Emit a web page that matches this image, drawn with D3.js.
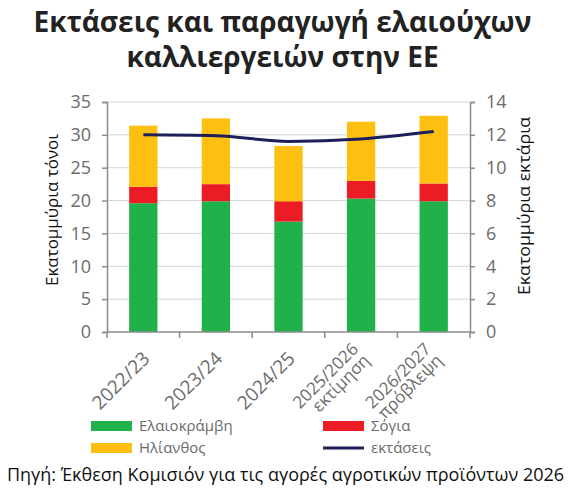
<!DOCTYPE html>
<html>
<head>
<meta charset="utf-8">
<script src="https://cdn.jsdelivr.net/npm/d3@7"></script>
<style>
  body { margin: 0; background: #fff; }
  svg text { font-family: "Open Sans", sans-serif; }
</style>
</head>
<body>
<div id="chart"></div>
<script>
// seasons on the x axis (second line is the note under the year)
var seasons = [["2022/23"], ["2023/24"], ["2024/25"], ["2025/2026", "εκτίμηση"], ["2026/2027", "πρόβλεψη"]];
// production, million tonnes
var rapeseed = [19.6, 19.9, 16.8, 20.3, 19.9];
var soya = [2.5, 2.6, 3.1, 2.7, 2.7];
var sunflower = [9.3, 10.0, 8.4, 9.0, 10.3];
// area, million hectares
var area = [12.0, 11.95, 11.6, 11.75, 12.2];

var leftTicks = [0, 5, 10, 15, 20, 25, 30, 35];
var rightTicks = [0, 2, 4, 6, 8, 10, 12, 14];

var seriesNames = ["Ελαιοκράμβη", "Σόγια", "Ηλίανθος", "εκτάσεις"];
var colors = ["#21b14b", "#ec1c24", "#fec010", "#1c1f5a"];

var width = 571, height = 500;
var plotLeft = 107, plotRight = 470, plotTop = 102, plotBottom = 332;

var svg = d3.select("#chart").append("svg")
            .attr("width", width)
            .attr("height", height);

// title
svg.append("text")
   .attr("x", width / 2 - 3).attr("y", 32)
   .attr("text-anchor", "middle")
   .attr("font-size", 28).attr("font-weight", 700).attr("fill", "#222")
   .text("Εκτάσεις και παραγωγή ελαιούχων");
svg.append("text")
   .attr("x", width / 2 - 3).attr("y", 67)
   .attr("text-anchor", "middle")
   .attr("font-size", 28).attr("font-weight", 700).attr("fill", "#222")
   .text("καλλιεργειών στην ΕΕ");

var x = d3.scaleBand()
          .domain(d3.range(seasons.length))
          .range([plotLeft, plotRight])
          .paddingInner(0.61).paddingOuter(0.305);
var yL = d3.scaleLinear().domain([0, 35]).range([plotBottom, plotTop]);
var yR = d3.scaleLinear().domain([0, 14]).range([plotBottom, plotTop]);

// grid
svg.append("g").selectAll("line")
   .data(leftTicks.slice(1))
   .enter().append("line")
   .attr("x1", plotLeft).attr("x2", plotRight)
   .attr("y1", function(d) { return yL(d); })
   .attr("y2", function(d) { return yL(d); })
   .attr("stroke", "#d6d6d6").attr("stroke-width", 1);

// stacked bars
var stackData = seasons.map(function(s, i) {
  return { i: i, r: rapeseed[i], s: soya[i], h: sunflower[i] };
});
var stack = d3.stack().keys(["r", "s", "h"]);
var layers = stack(stackData);

svg.append("g").selectAll("g")
   .data(layers)
   .enter().append("g")
   .attr("fill", function(d, i) { return colors[i]; })
   .selectAll("rect")
   .data(function(d) { return d; })
   .enter().append("rect")
   .attr("x", function(d) { return x(d.data.i); })
   .attr("width", x.bandwidth())
   .attr("y", function(d) { return yL(d[1]); })
   .attr("height", function(d) { return yL(d[0]) - yL(d[1]); });

// area line
var line = d3.line()
             .x(function(d, i) { return x(i) + x.bandwidth() / 2; })
             .y(function(d) { return yR(d); })
             .curve(d3.curveMonotoneX);
svg.append("path")
   .datum(area)
   .attr("d", line)
   .attr("fill", "none")
   .attr("stroke", colors[3])
   .attr("stroke-width", 3);

// axes
var axisColor = "#8c8c8c";
var tickColor = "#6b6b6b";

var gL = svg.append("g")
            .attr("transform", "translate(" + plotLeft + ",0)")
            .call(d3.axisLeft(yL).tickValues(leftTicks).tickSize(5).tickPadding(11));
var gR = svg.append("g")
            .attr("transform", "translate(" + plotRight + ",0)")
            .call(d3.axisRight(yR).tickValues(rightTicks).tickSize(5).tickPadding(11));
[gL, gR].forEach(function(g) {
  g.select(".domain").attr("stroke", axisColor).attr("stroke-width", 1.5);
  g.selectAll(".tick line").attr("stroke", axisColor).attr("stroke-width", 1.5);
  g.selectAll(".tick text").attr("fill", tickColor)
   .attr("font-size", 18).attr("font-family", "Open Sans, sans-serif");
});

// x baseline with ticks at band edges
var edges = d3.range(seasons.length + 1).map(function(i) {
  return plotLeft + i * x.step();
});
svg.append("line")
   .attr("x1", plotLeft).attr("x2", plotRight)
   .attr("y1", plotBottom).attr("y2", plotBottom)
   .attr("stroke", axisColor).attr("stroke-width", 1.5);
svg.append("g").selectAll("line")
   .data(edges)
   .enter().append("line")
   .attr("x1", function(d) { return d; }).attr("x2", function(d) { return d; })
   .attr("y1", plotBottom).attr("y2", plotBottom + 6)
   .attr("stroke", axisColor).attr("stroke-width", 1.5);

// x labels, rotated
var xl = svg.append("g").selectAll("text")
            .data(seasons)
            .enter().append("text")
            .attr("transform", function(d, i) {
              var cx = x(i) + x.bandwidth() / 2;
              if (d.length > 1) {
                return "translate(" + (cx - 3) + "," + (plotBottom + 17) + ") rotate(-45)";
              }
              return "translate(" + (cx + 3) + "," + (plotBottom + 23) + ") rotate(-45)";
            })
            .attr("text-anchor", "end")
            .attr("font-size", 19)
            .attr("fill", tickColor);
xl.each(function(d) {
  var t = d3.select(this);
  if (d.length === 1) {
    t.append("tspan").attr("x", 0).attr("dy", "0.35em").text(d[0]);
  } else {
    t.attr("font-size", 17);
    t.append("tspan").attr("x", 0).attr("dy", "0.1em").text(d[0]);
    t.append("tspan").attr("x", 0).attr("dy", "0.95em").text(d[1]);
  }
});

// axis titles
svg.append("text")
   .attr("transform", "translate(58,210) rotate(-90)")
   .attr("text-anchor", "middle")
   .attr("font-size", 16.5).attr("fill", "#111")
   .attr("textLength", 152).attr("lengthAdjust", "spacingAndGlyphs")
   .text("Εκατομμύρια τόνοι");
svg.append("text")
   .attr("transform", "translate(530,206) rotate(-90)")
   .attr("text-anchor", "middle")
   .attr("font-size", 16.5).attr("fill", "#111")
   .attr("textLength", 178).attr("lengthAdjust", "spacingAndGlyphs")
   .text("Εκατομμύρια εκτάρια");

// legend
var legendPos = [[91, 426], [323, 426], [91, 448], [323, 448]];
var lg = svg.append("g").selectAll("g")
            .data(seriesNames)
            .enter().append("g")
            .attr("transform", function(d, i) {
              return "translate(" + legendPos[i][0] + "," + legendPos[i][1] + ")";
            });
lg.append("rect")
  .attr("x", 0).attr("width", 41)
  .attr("y", function(d, i) { return i === 3 ? -1.5 : -5; })
  .attr("height", function(d, i) { return i === 3 ? 3 : 10; })
  .attr("fill", function(d, i) { return colors[i]; });
lg.append("text")
  .attr("x", 48).attr("dy", "0.35em")
  .attr("font-size", 15).attr("fill", tickColor)
  .text(function(d) { return d; });

// source
svg.append("text")
   .attr("x", width / 2).attr("y", 481)
   .attr("text-anchor", "middle")
   .attr("font-size", 18).attr("fill", "#111")
   .text("Πηγή: Έκθεση Κομισιόν για τις αγορές αγροτικών προϊόντων 2026");
</script>
</body>
</html>
